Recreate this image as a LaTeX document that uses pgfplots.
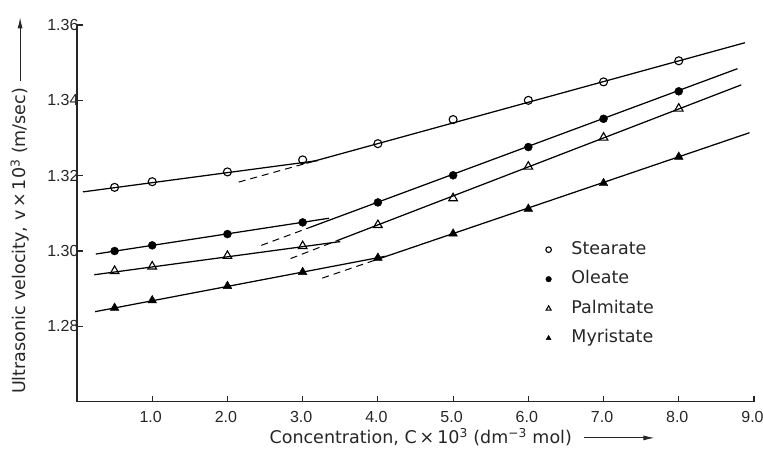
\documentclass[border=0pt]{standalone}
\usepackage{fontspec}
\setmainfont{DejaVu Sans}
\newfontfamily\tickfont{Liberation Sans}
\usepackage{pgfplots}
\pgfplotsset{compat=1.18}
\usetikzlibrary{arrows.meta}

\newcommand{\lbl}{\fontsize{17.5}{20}\selectfont}
\newcommand{\tck}{\tickfont\fontsize{16}{19}\selectfont}

\begin{document}
\begin{tikzpicture}
\begin{axis}[
  scale only axis,
  width=677pt, height=376.7pt,
  xmin=0, xmax=9, ymin=1.26, ymax=1.36,
  axis x line*=bottom, axis y line*=left,
  axis line style={-, line width=1.4pt, black!85},
  xtick={1,2,...,9},
  ytick={1.28,1.30,1.32,1.34,1.36},
  tick align=inside,
  major tick length=6pt,
  tick style={line width=1.2pt, black!85},
  /pgf/number format/assume math mode=true,
  ticklabel style={font=\tck, text=black!85},
  xticklabel style={yshift=-6pt, xshift=-1.5pt,
    /pgf/number format/fixed, /pgf/number format/fixed zerofill,
    /pgf/number format/precision=1},
  yticklabel style={xshift=5pt,
    /pgf/number format/fixed, /pgf/number format/fixed zerofill,
    /pgf/number format/precision=2},
  label style={font=\lbl, text=black!85},
  xlabel={Concentration, C\,×\,10\textsuperscript{3} (dm\textsuperscript{−3} mol)\hspace{12pt}\tikz[baseline=-0.6ex]\draw[-{Latex[length=11pt,width=5pt]}, line width=0.9pt] (0,0)--(70pt,0);},
  xlabel style={at={(axis description cs:0.569,-0.094)}, anchor=center},
  ylabel={Ultrasonic velocity, v\,×\,10\textsuperscript{3} (m/sec)\hspace{6pt}\tikz[baseline=-0.6ex]\draw[-{Latex[length=11pt,width=5pt]}, line width=0.9pt] (0,0)--(64pt,0);},
  ylabel style={at={(axis description cs:-0.0842,0.521)}, anchor=center},
  legend style={draw=none, fill=none, font=\lbl, text=black!85,
    at={(axis cs:6.19,1.3032)}, anchor=north west,
    row sep=12.5pt, cells={anchor=west},
    nodes={inner sep=0pt, text height=13pt, text depth=4pt},
    /tikz/every odd column/.style={column sep=20pt}},
  legend image code/.code={\draw[#1, mark size=2.8pt] plot coordinates {(0pt,0pt)};},
]
% fitted lines: two straight segments per salt, dashed extension of the upper one
\addplot[black, line width=1.25pt, forget plot] coordinates {(0.08,1.3157) (3.2,1.3240)};
\addplot[black, line width=1.25pt, forget plot] coordinates {(3.05,1.3233) (8.88,1.3553)};
\addplot[black, line width=1pt, dashed, dash pattern=on 7pt off 5pt, forget plot] coordinates {(2.15,1.3183) (3.05,1.3233)};

\addplot[black, line width=1.25pt, forget plot] coordinates {(0.25,1.2992) (3.35,1.3087)};
\addplot[black, line width=1.25pt, forget plot] coordinates {(3.1,1.3063) (8.78,1.3484)};
\addplot[black, line width=1pt, dashed, dash pattern=on 7pt off 5pt, forget plot] coordinates {(2.45,1.3015) (3.1,1.3063)};

\addplot[black, line width=1.25pt, forget plot] coordinates {(0.23,1.2937) (3.5,1.3025)};
\addplot[black, line width=1.25pt, forget plot] coordinates {(3.45,1.3027) (8.83,1.3441)};
\addplot[black, line width=1pt, dashed, dash pattern=on 7pt off 5pt, forget plot] coordinates {(2.84,1.2980) (3.45,1.3027)};

\addplot[black, line width=1.25pt, forget plot] coordinates {(0.24,1.2839) (4.1,1.2986)};
\addplot[black, line width=1.25pt, forget plot] coordinates {(3.95,1.2975) (8.94,1.3314)};
\addplot[black, line width=1pt, dashed, dash pattern=on 7pt off 5pt, forget plot] coordinates {(3.26,1.2928) (3.95,1.2975)};

% measured points
\addplot[only marks, mark=o, mark size=4pt, black, line width=1.1pt, fill=white] coordinates {
  (0.5,1.3169) (1.0,1.3184) (2.0,1.3210) (3.0,1.3242) (4.0,1.3285)
  (5.0,1.3349) (6.0,1.3400) (7.0,1.3449) (8.0,1.3505)};
\addlegendentry{Stearate}
\addplot[only marks, mark=*, mark size=4pt, black] coordinates {
  (0.5,1.3000) (1.0,1.3015) (2.0,1.3045) (3.0,1.3076) (4.0,1.3129)
  (5.0,1.3201) (6.0,1.3276) (7.0,1.3351) (8.0,1.3424)};
\addlegendentry{Oleate}
\addplot[only marks, mark=triangle, mark size=5pt, black, line width=1.1pt] coordinates {
  (0.5,1.2947) (1.0,1.2959) (2.0,1.2987) (3.0,1.3013) (4.0,1.3069)
  (5.0,1.3140) (6.0,1.3224) (7.0,1.3301) (8.0,1.3378)};
\addlegendentry{Palmitate}
\addplot[only marks, mark=triangle*, mark size=5pt, black] coordinates {
  (0.5,1.2849) (1.0,1.2869) (2.0,1.2907) (3.0,1.2944) (4.0,1.2982)
  (5.0,1.3046) (6.0,1.3112) (7.0,1.3180) (8.0,1.3250)};
\addlegendentry{Myristate}
\end{axis}
\pgfresetboundingbox
\useasboundingbox ([shift={(-77pt,-51.3pt)}]current axis.south west)
  rectangle ([shift={(686pt,401.7pt)}]current axis.south west);
\end{tikzpicture}
\end{document}
